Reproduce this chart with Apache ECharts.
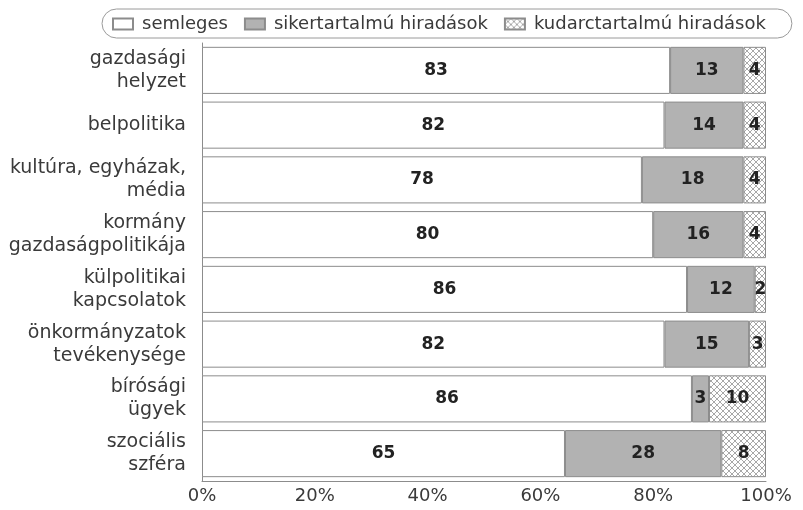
<!DOCTYPE html>
<html>
<head>
<meta charset="utf-8">
<script src="https://cdn.jsdelivr.net/npm/echarts@6/dist/echarts.min.js"></script>
<style>
  html, body { margin: 0; padding: 0; background: #fff; }
  #chart { width: 803px; height: 510px; }
</style>
</head>
<body>
<div id="chart"></div>
<script>
const categories = [
  'gazdasági\nhelyzet',
  'belpolitika',
  'kultúra, egyházak,\nmédia',
  'kormány\ngazdaságpolitikája',
  'külpolitikai\nkapcsolatok',
  'önkormányzatok\ntevékenysége',
  'bírósági\nügyek',
  'szociális\nszféra',
]
const semleges = [83, 82, 78, 80, 86, 82, 86, 65]
const sikeres = [13, 14, 18, 16, 12, 15, 3, 28]
const kudarc = [4, 4, 4, 4, 2, 3, 10, 8]
const xTicks = [0, 20, 40, 60, 80, 100]

const FONT = 'DejaVu Sans'
const TEXT = '#3a3a3a'
const EDGE = '#8c8c8c'

// crosshatch fill for the third series
function hatch() {
  const c = document.createElement('canvas')
  c.width = 6
  c.height = 6
  const g = c.getContext('2d')
  g.fillStyle = '#fff'
  g.fillRect(0, 0, 6, 6)
  g.strokeStyle = '#a8a8a8'
  g.lineWidth = 1
  g.beginPath()
  g.moveTo(0, 0); g.lineTo(6, 6)
  g.moveTo(0, 6); g.lineTo(6, 0)
  g.stroke()
  return c
}

// 100% stacked: each row is scaled to its own total, labels keep raw values
const totals = categories.map((_, i) => semleges[i] + sikeres[i] + kudarc[i])
const share = (arr) => arr.map((v, i) => ({ value: v / totals[i] * 100, raw: v }))

function makeSeries(name, values, fill) {
  return {
    name,
    type: 'bar',
    stack: 'all',
    barCategoryGap: '14%',
    data: share(values),
    itemStyle: { color: fill, borderColor: EDGE, borderWidth: 1 },
    label: {
      show: true,
      position: 'inside',
      formatter: (p) => p.data.raw,
      fontFamily: FONT,
      fontWeight: 'bold',
      fontSize: 17,
      color: '#222',
    },
    emphasis: { disabled: true },
  }
}

const chart = echarts.init(document.getElementById('chart'))
chart.setOption({
  animation: false,
  legend: {
    left: 102,
    top: 9,
    padding: [6, 26, 5, 10],
    borderColor: '#9a9a9a',
    borderWidth: 1,
    borderRadius: 15,
    icon: 'rect',
    itemWidth: 20,
    itemHeight: 11,
    itemGap: 16,
    textStyle: { fontFamily: FONT, fontSize: 18, color: TEXT, padding: [0, 0, 0, 4] },
  },
  grid: { left: 202, right: 37, top: 43, bottom: 29 },
  xAxis: {
    type: 'value',
    min: 0,
    max: 100,
    interval: 20,
    axisLine: { show: true, lineStyle: { color: EDGE } },
    axisTick: { show: false },
    splitLine: { show: false },
    axisLabel: {
      formatter: (v) => (xTicks.includes(v) ? v + '%' : ''),
      fontFamily: FONT,
      fontSize: 18,
      color: TEXT,
      margin: 6,
    },
  },
  yAxis: {
    type: 'category',
    inverse: true,
    data: categories,
    axisLine: { show: true, lineStyle: { color: EDGE } },
    axisTick: { show: false },
    axisLabel: {
      fontFamily: FONT,
      fontSize: 19,
      lineHeight: 23,
      color: TEXT,
      align: 'right',
      margin: 16,
    },
  },
  series: [
    makeSeries('semleges', semleges, '#ffffff'),
    makeSeries('sikertartalmú hiradások', sikeres, '#b2b2b2'),
    makeSeries('kudarctartalmú hiradások', kudarc, { image: hatch(), repeat: 'repeat' }),
  ],
})
</script>
</body>
</html>
